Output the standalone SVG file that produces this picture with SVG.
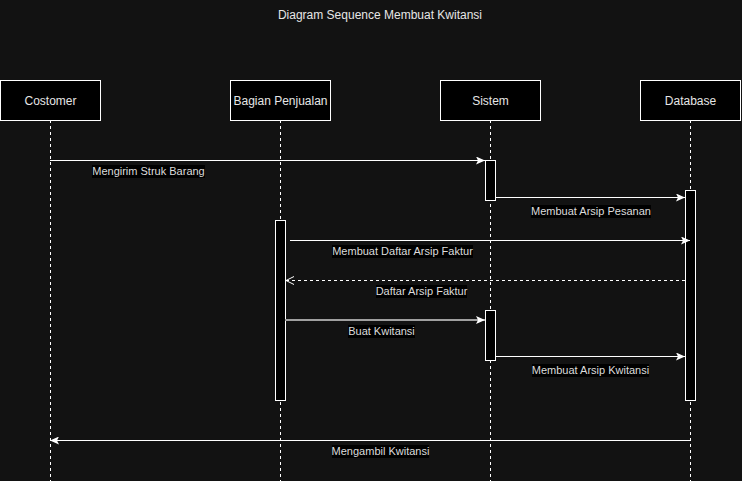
<svg xmlns="http://www.w3.org/2000/svg" width="742" height="481" viewBox="0 0 742 481">
<defs>
<style>
.bg{fill:#121212}
.box{fill:#000;stroke:#fff;stroke-width:1}
.nt{font-family:"Liberation Sans",Arial,sans-serif;font-size:12px;fill:#e6e6e6;text-anchor:middle}
.life{stroke:#fff;stroke-width:1;stroke-dasharray:3,3;fill:none}
.act{fill:#000;stroke:#fff;stroke-width:1}
.msg{stroke:#fff;stroke-width:1;fill:none}
.ret{stroke:#fff;stroke-width:1;stroke-dasharray:3,3;fill:none}
.lb{fill:#000}
.lt{font-family:"Liberation Sans",Arial,sans-serif;font-size:11px;fill:#dcdcdc;text-anchor:middle}
</style>
<marker id="blk" markerWidth="9" markerHeight="8" refX="9" refY="4" orient="auto" markerUnits="userSpaceOnUse">
<path d="M0,0 L9,4 L0,8 L2,4 z" fill="#fff"/>
</marker>
<marker id="opn" markerWidth="10" markerHeight="10" refX="9" refY="5" orient="auto" markerUnits="userSpaceOnUse">
<path d="M1,1 L9,5 L1,9" fill="none" stroke="#fff" stroke-width="1"/>
</marker>
</defs>
<rect class="bg" x="0" y="0" width="742" height="481"/>
<text class="nt" x="380" y="19">Diagram Sequence Membuat Kwitansi</text>

<g id="lifelines">
<line class="life" x1="50.5" y1="120" x2="50.5" y2="481"/>
<line class="life" x1="280.5" y1="120" x2="280.5" y2="481"/>
<line class="life" x1="490.5" y1="120" x2="490.5" y2="481"/>
<line class="life" x1="690.5" y1="120" x2="690.5" y2="481"/>
</g>

<g id="costomer">
<rect class="box" x="0.5" y="80.5" width="100" height="40"/>
<text class="nt" x="50.5" y="104.5">Costomer</text>
</g>
<g id="bagian-penjualan">
<rect class="box" x="230.5" y="80.5" width="100" height="40"/>
<text class="nt" x="280.5" y="104.5">Bagian Penjualan</text>
<rect class="act" x="275.5" y="220.5" width="10" height="180"/>
</g>
<g id="sistem">
<rect class="box" x="440.5" y="80.5" width="100" height="40"/>
<text class="nt" x="490.5" y="104.5">Sistem</text>
<rect class="act" x="485.5" y="160.5" width="10" height="40"/>
<rect class="act" x="485.5" y="310.5" width="10" height="50"/>
</g>
<g id="database">
<rect class="box" x="640.5" y="80.5" width="100" height="40"/>
<text class="nt" x="690.5" y="104.5">Database</text>
<rect class="act" x="685.5" y="190.5" width="10" height="210"/>
</g>

<g id="connectors">
<line class="msg" x1="50" y1="160.5" x2="485" y2="160.5" marker-end="url(#blk)"/>
<line class="msg" x1="495" y1="197.5" x2="685" y2="197.5" marker-end="url(#blk)"/>
<line class="msg" x1="290" y1="240.5" x2="690" y2="240.5" marker-end="url(#blk)"/>
<line class="ret" x1="685" y1="280.5" x2="286" y2="280.5" marker-end="url(#opn)"/>
<line x1="285" y1="320" x2="485" y2="320" stroke="#a0a0a0" stroke-width="2" marker-end="url(#blk)"/>
<line class="msg" x1="495" y1="356.5" x2="685" y2="356.5" marker-end="url(#blk)"/>
<line class="msg" x1="690" y1="440.5" x2="50" y2="440.5" marker-end="url(#blk)"/>

<rect class="lb" x="92" y="165" width="113" height="13"/>
<text class="lt" x="148.5" y="175">Mengirim Struk Barang</text>
<rect class="lb" x="531" y="205" width="120" height="13"/>
<text class="lt" x="591" y="215">Membuat Arsip Pesanan</text>
<rect class="lb" x="332" y="245" width="141" height="13"/>
<text class="lt" x="402.5" y="255">Membuat Daftar Arsip Faktur</text>
<rect class="lb" x="376" y="285" width="91" height="13"/>
<text class="lt" x="421.5" y="295">Daftar Arsip Faktur</text>
<rect class="lb" x="348" y="325" width="67" height="13"/>
<text class="lt" x="381.5" y="335">Buat Kwitansi</text>
<rect class="lb" x="532" y="364" width="117" height="13"/>
<text class="lt" x="590.5" y="374">Membuat Arsip Kwitansi</text>
<rect class="lb" x="332" y="445" width="97" height="13"/>
<text class="lt" x="380.5" y="455">Mengambil Kwitansi</text>
</g>
</svg>
